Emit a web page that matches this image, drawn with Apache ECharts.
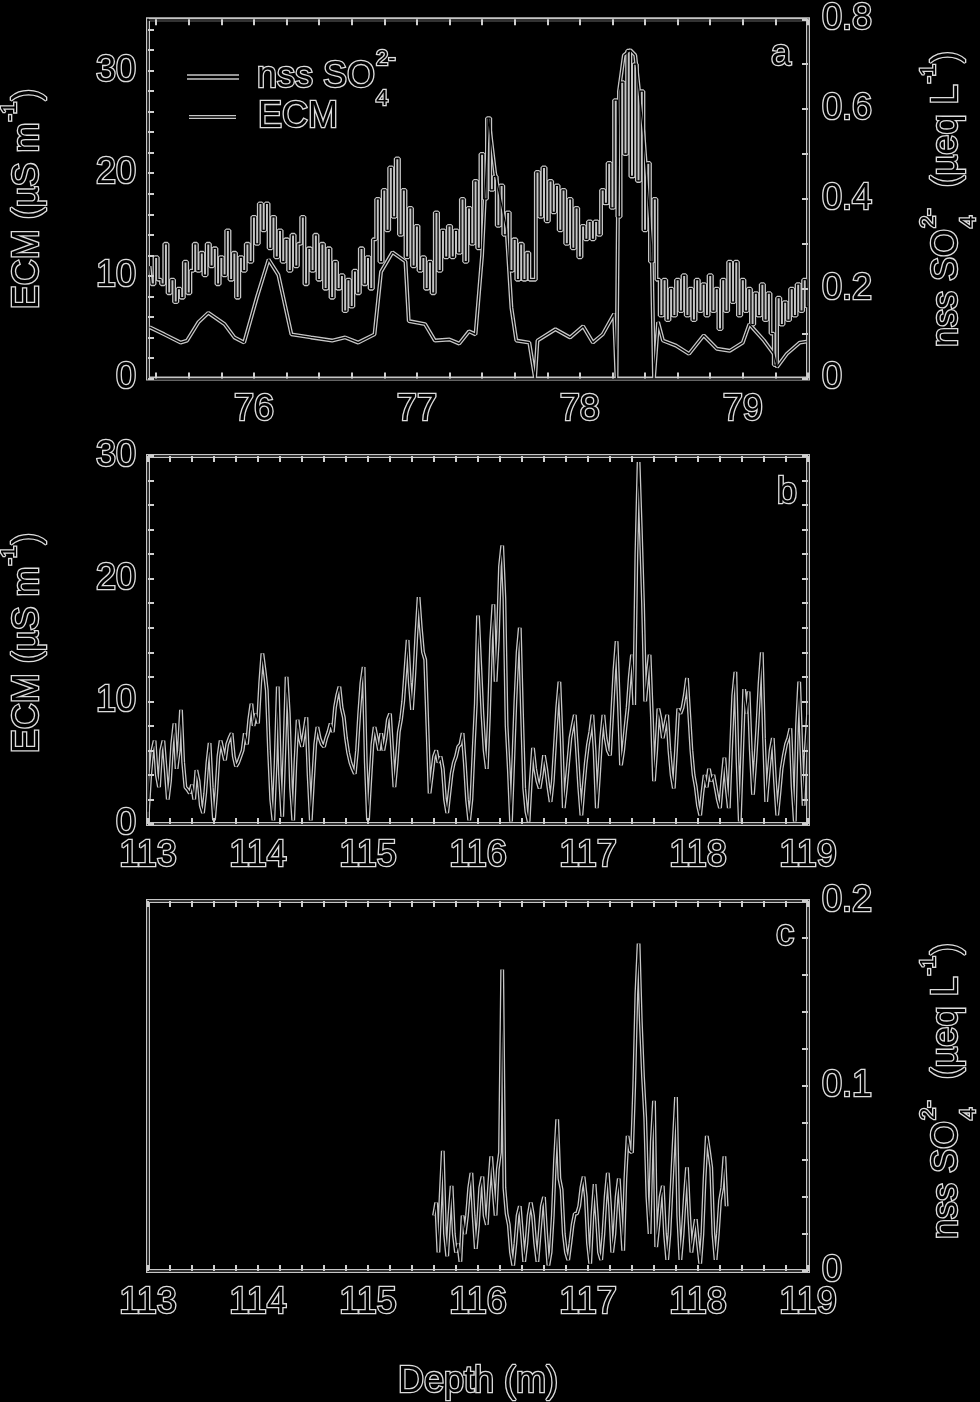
<!DOCTYPE html>
<html><head><meta charset="utf-8">
<script src="https://cdn.jsdelivr.net/npm/echarts@6/dist/echarts.min.js"></script>
<style>html,body{margin:0;padding:0;background:#000;}#c{width:980px;height:1402px;}</style>
</head><body><div id="c"></div>
<script>
// ---------------- DATA ----------------
// Panel a: nss SO4 2- (right axis, µeq/L), regular 0.02 m sampling from 75.36 m
const so4A_start = 75.36, so4A_step = 0.02;
const so4A = [
0.25,0.21,0.27,0.22,0.21,0.30,0.19,0.22,0.17,0.20,
0.18,0.26,0.19,0.24,0.30,0.24,0.28,0.23,0.30,0.25,
0.29,0.21,0.27,0.23,0.33,0.22,0.28,0.18,0.27,0.24,
0.30,0.26,0.36,0.30,0.39,0.33,0.39,0.29,0.36,0.27,
0.33,0.26,0.31,0.24,0.32,0.25,0.30,0.36,0.21,0.29,
0.24,0.32,0.22,0.30,0.20,0.29,0.18,0.26,0.20,0.23,
0.15,0.22,0.16,0.24,0.19,0.29,0.21,0.27,0.20,0.31,
0.40,0.26,0.42,0.33,0.47,0.36,0.49,0.32,0.42,0.27,
0.38,0.25,0.34,0.24,0.27,0.20,0.26,0.19,0.37,0.24,
0.33,0.27,0.34,0.27,0.33,0.28,0.40,0.26,0.38,0.30,
0.44,0.29,0.50,0.40,0.58,0.42,0.45,0.34,0.43,0.32,
0.37,0.24,0.31,0.22,0.30,0.22,0.28,0.22,0.22,0.46,
0.36,0.47,0.35,0.44,0.37,0.43,0.33,0.42,0.30,0.40,
0.29,0.38,0.27,0.34,0.31,0.35,0.31,0.35,0.32,0.42,
0.39,0.48,0.38,0.62,0.36,0.66,0.50,0.73,0.45,0.70,
0.44,0.64,0.33,0.48,0.26,0.40,0.22,0.14,0.22,0.13,
0.20,0.14,0.22,0.15,0.23,0.14,0.20,0.13,0.22,0.15,
0.21,0.14,0.23,0.15,0.20,0.11,0.22,0.15,0.26,0.17,
0.26,0.14,0.22,0.15,0.20,0.12,0.19,0.14,0.21,0.13,
0.19,0.10,0.03,0.18,0.12,0.17,0.13,0.20,0.14,0.21,
0.15,0.22,0.16];
// Panel a: ECM (left axis, µS/m), [depth, value]
const ecmA = [[75.36,5.0],[75.45,4.3],[75.55,3.5],[75.59,3.7],[75.66,5.5],[75.72,6.4],[75.82,5.3],[75.88,4.0],[75.94,3.5],
[76.02,8.0],[76.09,11.6],[76.15,10.1],[76.23,4.3],[76.35,4.0],[76.48,3.7],[76.56,4.0],[76.64,3.5],[76.74,4.3],[76.78,10.4],
[76.85,12.3],[76.93,11.4],[76.95,5.6],[77.05,5.3],[77.11,3.7],[77.20,3.8],[77.26,3.4],[77.32,4.6],[77.36,4.3],[77.40,12.0],
[77.44,25.4],[77.48,20.0],[77.55,14.6],[77.58,6.9],[77.61,3.7],[77.69,3.5],[77.725,0],[77.74,3.7],[77.85,4.8],[77.94,4.0],
[78.02,5.1],[78.08,3.5],[78.14,4.3],[78.21,6.3],[78.225,0],[78.24,28.0],[78.27,31.5],[78.31,32.0],[78.34,31.5],[78.39,24.0],
[78.44,13.0],[78.455,0],[78.48,5.5],[78.51,3.7],[78.59,3.2],[78.67,2.4],[78.76,4.2],[78.84,2.9],[78.92,2.7],[79.00,3.5],
[79.04,5.3],[79.13,3.7],[79.19,2.4],[79.21,1.1],[79.27,2.4],[79.35,3.5],[79.39,3.6]];
// Panel b: ECM (µS/m), regular 0.02 m sampling from 113.00 m
const ecmB_start = 113.00, ecmB_step = 0.02;
const ecmB = [
1.0,4.0,6.0,6.8,4.0,3.0,6.0,6.8,4.5,2.0,
3.5,6.5,8.2,4.5,6.0,9.3,5.0,3.0,2.8,2.5,
3.2,2.0,4.4,3.5,1.5,0.9,2.5,5.0,6.6,3.0,
0.3,2.5,5.5,6.8,6.0,5.2,6.5,7.0,7.4,5.5,
4.7,5.0,5.5,6.0,7.4,6.5,8.5,9.8,8.0,9.0,
8.2,11.5,13.9,12.5,10.9,6.0,2.0,0.3,5.0,11.2,
4.0,0.6,6.0,12.0,9.0,3.0,0.3,5.0,8.5,7.0,
6.3,7.5,8.7,4.0,0.3,3.5,6.5,7.9,7.0,6.5,
6.3,7.0,7.5,8.2,7.5,9.5,10.5,11.2,9.5,8.7,
7.0,5.8,5.0,4.5,4.1,6.0,9.0,11.5,12.8,5.0,
0.3,3.5,6.5,7.9,7.0,6.0,7.4,6.0,7.0,8.5,
9.0,6.0,3.0,5.0,7.5,8.5,10.0,12.5,15.0,11.5,
9.3,12.0,15.5,18.5,16.0,14.0,13.4,8.0,2.5,4.0,
5.5,6.0,5.0,5.5,4.5,2.0,0.9,2.5,4.1,5.0,
5.5,6.3,6.5,7.4,5.0,2.0,0.3,2.0,6.0,9.8,
17.0,13.0,9.0,6.0,4.5,9.0,15.0,17.9,11.6,15.0,
21.0,22.7,18.4,8.0,4.5,0.2,5.0,10.0,14.0,16.0,
9.0,2.9,1.0,0.2,3.5,6.2,4.5,3.5,2.9,4.0,
5.6,4.5,3.0,1.8,3.5,6.5,9.5,11.6,7.0,1.3,
3.0,5.0,7.0,8.0,8.9,6.0,3.0,0.7,3.0,5.0,
6.5,7.5,8.9,6.0,1.3,4.0,7.0,8.9,7.0,6.0,
5.6,9.0,12.5,14.9,10.0,4.8,6.0,7.8,9.5,12.0,
13.8,9.7,22.0,29.5,24.0,18.0,10.0,12.0,13.8,9.0,
3.5,6.0,9.4,8.5,7.0,8.0,8.9,6.0,4.0,2.9,
6.0,9.4,9.0,9.5,10.5,11.9,9.0,6.0,4.0,3.0,
1.5,0.7,2.5,4.0,3.0,4.5,3.5,4.0,3.0,2.0,
1.3,3.5,5.4,3.0,1.3,6.0,10.5,12.4,5.0,0.2,
5.5,11.0,9.0,10.8,6.0,2.4,5.0,8.0,11.5,14.0,
7.0,1.8,4.0,6.0,7.0,3.5,0.7,2.5,4.5,5.6,
6.5,7.0,7.8,3.0,0.2,8.0,11.6,6.0,1.5,6.0,
8.9];
// Panel c: nss SO4 2- (µeq/L), regular 0.02 m sampling from 115.60 m
const so4C_start = 115.60, so4C_step = 0.02;
const so4C = [
0.030,0.037,0.010,0.040,0.065,0.020,0.008,0.030,0.046,0.020,
0.010,0.015,0.005,0.030,0.020,0.030,0.045,0.053,0.030,0.012,
0.025,0.045,0.051,0.030,0.025,0.045,0.062,0.045,0.030,0.055,
0.064,0.163,0.045,0.031,0.025,0.010,0.003,0.015,0.030,0.035,
0.020,0.005,0.015,0.030,0.037,0.030,0.015,0.005,0.020,0.035,
0.040,0.020,0.003,0.010,0.030,0.060,0.082,0.050,0.044,0.020,
0.010,0.006,0.015,0.025,0.031,0.031,0.035,0.045,0.051,0.040,
0.015,0.004,0.030,0.047,0.030,0.010,0.006,0.020,0.040,0.053,
0.035,0.010,0.020,0.040,0.050,0.030,0.011,0.050,0.073,0.065,
0.064,0.100,0.150,0.177,0.135,0.105,0.083,0.040,0.020,0.070,
0.092,0.013,0.025,0.040,0.046,0.020,0.006,0.020,0.045,0.070,
0.094,0.030,0.006,0.020,0.040,0.056,0.030,0.010,0.020,0.028,
0.015,0.004,0.020,0.050,0.073,0.065,0.056,0.020,0.006,0.020,
0.038,0.045,0.062,0.035];
// Axis ranges and tick labels
const xRangeA = [75.35, 79.4];
const xRangeBC = [113, 119];
const xLabelsA = [76, 77, 78, 79];
const xLabelsBC = [113, 114, 115, 116, 117, 118, 119];
const yLabelsA_left = [0, 10, 20, 30];
const yLabelsA_right = [0, 0.2, 0.4, 0.6, 0.8];
const yLabelsB = [0, 10, 20, 30];
const yLabelsC = [0, 0.1, 0.2];

// ---------------- HELPERS ----------------
const FONT = '"Liberation Sans", Arial, sans-serif';
const FS = 36;
const HALO = '#dcdcdc';
function pairs(start, step, vals) { return vals.map((v, i) => [+(start + i * step).toFixed(3), v]); }
function seq(min, max, step) {
  const out = []; const k0 = Math.ceil(min / step - 1e-6);
  for (let k = k0; k * step <= max + 1e-6; k++) out.push(+(k * step).toFixed(4));
  return out;
}
const LAB = { color: '#000', fontFamily: FONT, fontSize: FS, textBorderColor: HALO, textBorderWidth: 2.6 };
const AXLINE = { show: true, onZero: false, lineStyle: { color: '#000', width: 1.5 } };
function tickStyle(vals) { return { show: true, inside: true, length: 6, customValues: vals, lineStyle: { color: '#cfcfcf', width: 2 } }; }
function xAxes(gi, range, labels, minorStep) {
  const t = seq(range[0], range[1], minorStep);
  return [
    { type: 'value', gridIndex: gi, position: 'bottom', min: range[0], max: range[1], z: 4,
      axisLine: AXLINE, axisTick: tickStyle(t), splitLine: { show: false },
      axisLabel: Object.assign({ show: true, customValues: labels, margin: 14 }, LAB) },
    { type: 'value', gridIndex: gi, position: 'top', min: range[0], max: range[1], z: 4,
      axisLine: AXLINE, axisTick: tickStyle(t), splitLine: { show: false }, axisLabel: { show: false } }
  ];
}
function yAxis(gi, pos, max, labels, minorStep) {
  return { type: 'value', gridIndex: gi, position: pos, min: 0, max: max, z: 4,
    axisLine: AXLINE, splitLine: { show: false },
    axisTick: minorStep ? tickStyle(seq(0, max, minorStep)) : { show: false },
    axisLabel: labels ? Object.assign({ show: true, customValues: labels, margin: pos === 'left' ? 12 : 14 }, LAB) : { show: false } };
}
function dual(name, xi, yi, data, w, step) {
  const base = { type: 'line', name: name, xAxisIndex: xi, yAxisIndex: yi, data: data, symbol: 'none',
    animation: false, silent: true, step: step || false, clip: true };
  return [
    Object.assign({}, base, { z: 2, lineStyle: { color: '#c6c6c6', width: w + 2.6 } }),
    Object.assign({}, base, { z: 3, lineStyle: { color: '#000', width: w } })
  ];
}
// text made of pieces with sub/superscripts (graphic)
const mctx = document.createElement('canvas').getContext('2d');
function tw(t, fs) { mctx.font = fs + 'px ' + FONT; return mctx.measureText(t).width; }
function txt(t, x, y, fs, align) {
  return { type: 'text', x: x, y: y, z: 10, style: { text: t, font: fs + 'px ' + FONT, fill: '#000', stroke: HALO, lineWidth: 2.6,
    align: align || 'left', verticalAlign: 'middle' } };
}
function pieceGroup(pieces, opt) {
  const fs = FS, sfs = 22; const items = []; let lx = 0;
  pieces.forEach(p => {
    if (p.n !== undefined) { items.push([p.n, lx, 0, fs]); lx += tw(p.n, fs); }
    else {
      let w = 0;
      if (p.sup) { items.push([p.sup, lx + 1, -0.5 * fs, sfs]); w = Math.max(w, tw(p.sup, sfs)); }
      if (p.sub) { items.push([p.sub, lx + 1, 0.6 * fs, sfs]); w = Math.max(w, tw(p.sub, sfs)); }
      lx += w + 2;
    }
  });
  const off = opt.anchor === 'left' ? 0 : -lx / 2;
  return { type: 'group', x: opt.x, y: opt.y, rotation: opt.rotation || 0,
    children: items.map(it => txt(it[0], it[1] + off, it[2], it[3])) };
}
const ecmTitle = [{ n: 'ECM (µS m' }, { sup: '-1' }, { n: ')' }];
const so4Title = [{ n: 'nss SO' }, { sub: '4', sup: '2-' }, { n: '  (µeq L' }, { sup: '-1' }, { n: ')' }];
const R = Math.PI / 2;

// ---------------- CHART ----------------
const chart = echarts.init(document.getElementById('c'), null, { renderer: 'canvas' });
const gridStyle = { show: true, borderColor: '#c6c6c6', borderWidth: 4, backgroundColor: 'transparent', z: 0 };
const option = {
  backgroundColor: '#000',
  animation: false,
  grid: [
    Object.assign({ left: 148, right: 172, top: 14, height: 364.5 }, gridStyle),
    Object.assign({ left: 148, right: 172, top: 456, height: 368 }, gridStyle),
    Object.assign({ left: 148, right: 172, top: 901, height: 370 }, gridStyle)
  ],
  xAxis: [].concat(xAxes(0, xRangeA, xLabelsA, 0.2), xAxes(1, xRangeBC, xLabelsBC, 0.2), xAxes(2, xRangeBC, xLabelsBC, 0.2)),
  yAxis: [
    yAxis(0, 'left', 35, yLabelsA_left, 2),
    yAxis(0, 'right', 0.8, yLabelsA_right, 0.1),
    yAxis(1, 'left', 30, yLabelsB, 2),
    yAxis(1, 'right', 30, null, 2),
    yAxis(2, 'left', 0.2, null, null),
    yAxis(2, 'right', 0.2, yLabelsC, 0.02)
  ],
  series: [].concat(
    dual('nss SO4 2- (a)', 0, 1, pairs(so4A_start, so4A_step, so4A), 1.3, 'middle'),
    dual('ECM (a)', 0, 0, ecmA, 1.3),
    dual('ECM (b)', 2, 2, pairs(ecmB_start, ecmB_step, ecmB), 1.3),
    dual('nss SO4 2- (c)', 4, 5, pairs(so4C_start, so4C_step, so4C), 1.3)
  ),
  graphic: [
    // legend (panel a)
    { type: 'line', z: 9, shape: { x1: 187, y1: 77, x2: 239, y2: 77 }, style: { stroke: '#c6c6c6', lineWidth: 5.5 } },
    { type: 'line', z: 10, shape: { x1: 187, y1: 77, x2: 239, y2: 77 }, style: { stroke: '#000', lineWidth: 2.5 } },
    { type: 'line', z: 9, shape: { x1: 189, y1: 117, x2: 236, y2: 117 }, style: { stroke: '#c6c6c6', lineWidth: 3.9 } },
    { type: 'line', z: 10, shape: { x1: 189, y1: 117, x2: 236, y2: 117 }, style: { stroke: '#000', lineWidth: 1.3 } },
    pieceGroup([{ n: 'nss SO' }, { sub: '4', sup: '2-' }], { x: 257, y: 77, anchor: 'left' }),
    pieceGroup([{ n: 'ECM' }], { x: 258, y: 117, anchor: 'left' }),
    // panel letters
    txt('a', 781, 55, FS, 'center'),
    txt('b', 787, 493, FS, 'center'),
    txt('c', 785, 935, FS, 'center'),
    // axis titles
    pieceGroup(ecmTitle, { x: 28, y: 199, rotation: R }),
    pieceGroup(ecmTitle, { x: 28, y: 643, rotation: R }),
    pieceGroup(so4Title, { x: 947, y: 199, rotation: R }),
    pieceGroup(so4Title, { x: 947, y: 1091, rotation: R }),
    txt('Depth (m)', 478, 1382, FS, 'center')
  ]
};
chart.setOption(option);
</script></body></html>
